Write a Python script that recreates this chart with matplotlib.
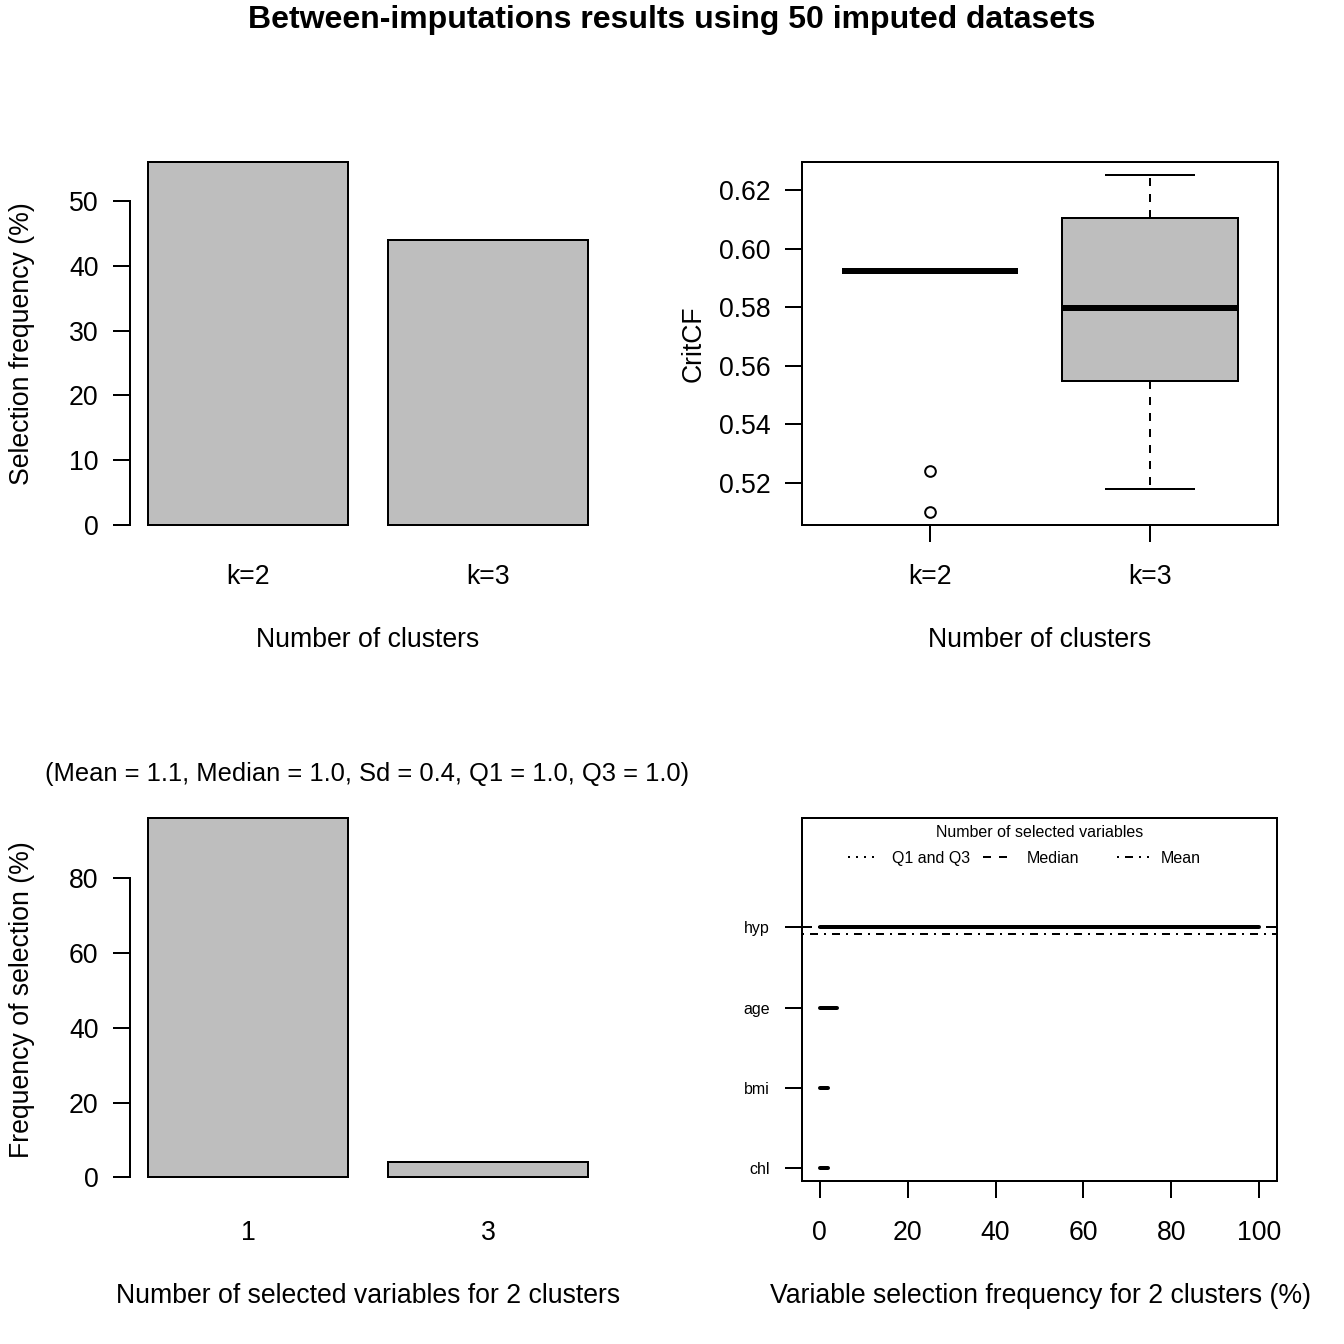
import matplotlib
matplotlib.use("Agg")
import matplotlib.pyplot as plt
import numpy as np

plt.rcParams['font.family'] = ['Liberation Sans', 'DejaVu Sans']

# ---------------- data ----------------
k_labels = ["k=2", "k=3"]
k_freq = [56, 44]                      # selection frequency (%)

critcf_k2 = dict(med=0.5923, q1=0.5923, q3=0.5923, whislo=0.5923, whishi=0.5923,
                 fliers=[0.5241, 0.5101])
critcf_k3 = dict(med=0.5796, q1=0.5549, q3=0.6104, whislo=0.5179, whishi=0.6251,
                 fliers=[])

nsel_values = [1, 3]
nsel_freq = [96, 4]                    # frequency of selection (%)

var_names = ["hyp", "age", "bmi", "chl"]
var_freq = [100, 4, 2, 2]              # variable selection frequency (%)

main_title = "Between-imputations results using 50 imputed datasets"

# ---------------- layout helpers ----------------
W = H = 1344
DPI = 192
PX = 72.0 / DPI        # points per pixel
GREY = "#BEBEBE"
LW = 2 * PX            # R lwd=1
TICK = 17 * PX

fig = plt.figure(figsize=(W / DPI, H / DPI), dpi=DPI)
fig.patch.set_facecolor("white")


def rect(x0, y0, x1, y1):
    return [x0 / W, 1 - y1 / H, (x1 - x0) / W, (y1 - y0) / H]


def ftext(x, y, s, **kw):
    return fig.text(x / W, 1 - y / H, s, **kw)


def rpad(lo, hi, f=0.04):
    d = (hi - lo) * f
    return lo - d, hi + d


def barpanel(ax, labels, freq, yticks, ylim):
    n = len(freq)
    left = 0.2 + 1.2 * np.arange(n)
    centers = left + 0.5
    bars = ax.bar(centers, freq, width=1.0, color=GREY, edgecolor="black",
                  linewidth=LW, joinstyle="miter")
    for b in bars:
        b.set_clip_on(False)
    ax.set_xlim(*rpad(left[0], left[-1] + 1.0))
    ax.set_ylim(*ylim)
    for s in ["top", "right", "bottom"]:
        ax.spines[s].set_visible(False)
    ax.spines["left"].set_linewidth(LW)
    ax.spines["left"].set_bounds(yticks[0], yticks[-1])
    ax.set_yticks(yticks)
    ax.set_xticks(centers)
    ax.set_xticklabels(labels)
    ax.tick_params(axis="y", length=TICK, width=LW, pad=15 * PX, labelsize=10)
    ax.tick_params(axis="x", length=0, pad=38.5 * PX, labelsize=10)


# ---------------- top-left: selection frequency ----------------
ax1 = fig.add_axes(rect(130.4, 162, 605.6, 525))
barpanel(ax1, k_labels, k_freq, list(range(0, 51, 10)), (0, max(k_freq)))
ftext(368, 647, "Number of clusters", ha="center", va="baseline", fontsize=10)
ftext(29, 343.5, "Selection frequency (%)", ha="center", va="baseline",
      rotation=90, rotation_mode="anchor", fontsize=10)

# ---------------- top-right: CritCF boxplot ----------------
ax2 = fig.add_axes(rect(802.4, 162, 1277.6, 525))
stats = [critcf_k2, critcf_k3]
allv = []
for s in stats:
    allv += [s["whislo"], s["whishi"]] + list(s["fliers"])
ax2.bxp(stats, positions=[1, 2], widths=0.8, capwidths=0.4, patch_artist=True,
        manage_ticks=False,
        boxprops=dict(facecolor=GREY, edgecolor="black", linewidth=LW),
        medianprops=dict(color="black", linewidth=3 * LW, solid_capstyle="butt"),
        whiskerprops=dict(color="black", linewidth=LW, linestyle=(0, (4, 4))),
        capprops=dict(color="black", linewidth=LW),
        flierprops=dict(marker="o", markerfacecolor="none", markeredgecolor="black",
                        markersize=4.0, markeredgewidth=LW))
ax2.set_xlim(*rpad(0.5, 2.5))
ax2.set_ylim(*rpad(min(allv), max(allv)))
ax2.set_xticks([1, 2])
ax2.set_xticklabels(k_labels)
yt = np.round(np.arange(0.52, 0.6201, 0.02), 2)
ax2.set_yticks(yt)
ax2.set_yticklabels([f"{v:.2f}" for v in yt])
for s in ax2.spines.values():
    s.set_linewidth(LW)
ax2.tick_params(axis="y", length=TICK, width=LW, pad=15 * PX, labelsize=10)
ax2.tick_params(axis="x", length=TICK, width=LW, pad=21.5 * PX, labelsize=10)
ftext(1040, 647, "Number of clusters", ha="center", va="baseline", fontsize=10)
ftext(701, 343.5, "CritCF", ha="center", va="baseline",
      rotation=90, rotation_mode="anchor", fontsize=10)

# ---------------- bottom-left: number of selected variables ----------------
ax3 = fig.add_axes(rect(130.4, 818, 605.6, 1181))
barpanel(ax3, [str(v) for v in nsel_values], nsel_freq, list(range(0, 81, 20)),
         (-0.01 * max(nsel_freq), max(nsel_freq)))
w = np.array(nsel_freq, float) / sum(nsel_freq)
vals = np.array(nsel_values, float)
n_mean = float(np.sum(w * vals))
n_sd = float(np.sqrt(np.sum(w * (vals - n_mean) ** 2)))
cw = np.cumsum(w)
def wq(p):
    return float(vals[np.searchsorted(cw, p)])
n_q1, n_med, n_q3 = wq(0.25), wq(0.5), wq(0.75)
sub = (f"(Mean = {n_mean:.1f}, Median = {n_med:.1f}, Sd = {n_sd:.1f}, "
       f"Q1 = {n_q1:.1f}, Q3 = {n_q3:.1f})")
ftext(367, 781, sub, ha="center", va="baseline", fontsize=9.55)
ftext(368, 1303, "Number of selected variables for 2 clusters", ha="center",
      va="baseline", fontsize=10)
ftext(29, 999.5, "Frequency of selection (%)", ha="center", va="baseline",
      rotation=90, rotation_mode="anchor", fontsize=10)

# ---------------- bottom-right: variable selection frequency ----------------
ax4 = fig.add_axes(rect(802, 818, 1277, 1181))
nv = len(var_names)
ypos = nv - np.arange(nv)
ax4.set_xlim(*rpad(0, 100))
ax4.set_ylim(*rpad(1, nv + 1.2))
ax4.axhline(nv + 1 - n_q1, color="black", lw=LW, ls=(0, (1, 3)))
ax4.axhline(nv + 1 - n_q3, color="black", lw=LW, ls=(0, (1, 3)))
ax4.axhline(nv + 1 - n_med, color="black", lw=LW, ls=(0, (4, 4)))
ax4.axhline(nv + 1 - n_mean, color="black", lw=LW, ls=(0, (1, 3, 4, 3)))
segs = ax4.hlines(ypos, 0, var_freq, colors="black", linewidth=2 * LW)
segs.set_capstyle("round")
ax4.set_yticks(ypos)
ax4.set_yticklabels(var_names)
ax4.set_xticks(list(range(0, 101, 20)))
for s in ax4.spines.values():
    s.set_linewidth(LW)
ax4.tick_params(axis="y", length=TICK, width=LW, pad=15 * PX, labelsize=6)
ax4.tick_params(axis="x", length=TICK, width=LW, pad=21.5 * PX, labelsize=10)
ftext(1040, 1303, "Variable selection frequency for 2 clusters (%)", ha="center",
      va="baseline", fontsize=10)

# legend (drawn R-style: title + horizontal entries of equal width)
ftext(1040, 837, "Number of selected variables", ha="center", va="baseline", fontsize=6)
leg_labels = ["Q1 and Q3", "Median", "Mean"]
leg_styles = [(0, (1, 3)), (0, (4, 4)), (0, (1, 3, 4, 3))]
for i, (lab, st) in enumerate(zip(leg_labels, leg_styles)):
    x0 = 848 + i * 134.5
    fig.add_artist(plt.Line2D([x0 / W, (x0 + 32) / W], [1 - 857 / H, 1 - 857 / H],
                              color="black", lw=LW, ls=st))
    ftext(x0 + 44, 863, lab, ha="left", va="baseline", fontsize=6)

# ---------------- main title ----------------
ftext(672, 28, main_title, ha="center", va="baseline", fontsize=12, fontweight="bold")

fig.savefig("out.png", dpi=DPI, facecolor="white")
